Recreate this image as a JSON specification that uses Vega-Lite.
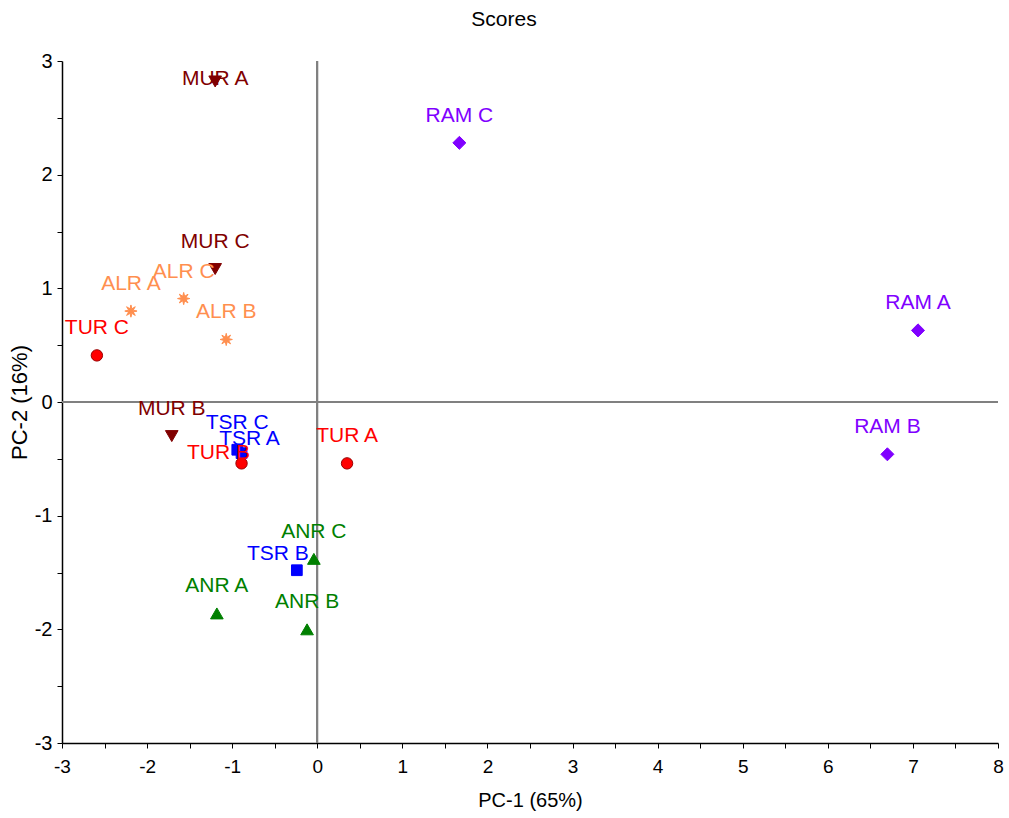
{
  "$schema": "https://vega.github.io/schema/vega-lite/v6.json",
  "autosize": "none",
  "width": 936,
  "height": 682,
  "padding": {"left": 62, "top": 61, "right": 11, "bottom": 75},
  "background": "white",
  "title": {
    "text": "Scores",
    "anchor": "middle",
    "frame": "group",
    "dx": -26,
    "offset": 21,
    "font": "'Liberation Sans', Arial, sans-serif",
    "fontSize": 21,
    "fontWeight": "normal",
    "color": "black"
  },
  "config": {
    "view": {"stroke": null},
    "axis": {
      "grid": false,
      "domainColor": "black",
      "domainWidth": 1.5,
      "tickColor": "black",
      "tickWidth": 1,
      "labelColor": "black",
      "titleColor": "black",
      "titleFontWeight": "normal"
    }
  },
  "data": {
    "values": [
      {"name": "MUR A", "group": "MUR", "pc1": -1.20, "pc2": 2.82},
      {"name": "MUR B", "group": "MUR", "pc1": -1.71, "pc2": -0.30},
      {"name": "MUR C", "group": "MUR", "pc1": -1.20, "pc2": 1.17},
      {"name": "ALR A", "group": "ALR", "pc1": -2.19, "pc2": 0.80},
      {"name": "ALR B", "group": "ALR", "pc1": -1.07, "pc2": 0.55},
      {"name": "ALR C", "group": "ALR", "pc1": -1.57, "pc2": 0.91},
      {"name": "TUR A", "group": "TUR", "pc1": 0.35, "pc2": -0.54},
      {"name": "TUR B", "group": "TUR", "pc1": -0.89, "pc2": -0.54},
      {"name": "TUR C", "group": "TUR", "pc1": -2.59, "pc2": 0.41},
      {"name": "TSR A", "group": "TSR", "pc1": -0.89, "pc2": -0.45},
      {"name": "TSR B", "group": "TSR", "pc1": -0.24, "pc2": -1.48},
      {"name": "TSR C", "group": "TSR", "pc1": -0.94, "pc2": -0.42},
      {"name": "ANR A", "group": "ANR", "pc1": -1.18, "pc2": -1.86},
      {"name": "ANR B", "group": "ANR", "pc1": -0.12, "pc2": -2.00},
      {"name": "ANR C", "group": "ANR", "pc1": -0.04, "pc2": -1.38},
      {"name": "RAM A", "group": "RAM", "pc1": 7.06, "pc2": 0.63},
      {"name": "RAM B", "group": "RAM", "pc1": 6.70, "pc2": -0.46},
      {"name": "RAM C", "group": "RAM", "pc1": 1.67, "pc2": 2.28}
    ]
  },
  "encoding": {
    "x": {
      "field": "pc1", "type": "quantitative",
      "scale": {"domain": [-3, 8], "nice": false, "zero": false},
      "axis": {
        "title": "PC-1 (65%)",
        "values": [-3,-2.5,-2,-1.5,-1,-0.5,0,0.5,1,1.5,2,2.5,3,3.5,4,4.5,5,5.5,6,6.5,7,7.5,8],
        "labelExpr": "datum.value % 1 === 0 ? '' + datum.value : ''",
        "tickSize": 5,
        "labelPadding": 9,
        "labelFont": "'Liberation Sans', Arial, sans-serif",
        "labelFontSize": 19,
        "labelFlush": false,
        "labelOverlap": false,
        "titleFont": "'Liberation Sans', Arial, sans-serif",
        "titleFontSize": 20,
        "titlePadding": 14
      }
    },
    "y": {
      "field": "pc2", "type": "quantitative",
      "scale": {"domain": [-3, 3], "nice": false, "zero": false},
      "axis": {
        "title": "PC-2 (16%)",
        "values": [-3,-2.5,-2,-1.5,-1,-0.5,0,0.5,1,1.5,2,2.5,3],
        "labelExpr": "datum.value % 1 === 0 ? '' + datum.value : ''",
        "tickSize": 5,
        "labelPadding": 5,
        "labelFont": "'Liberation Sans', Arial, sans-serif",
        "labelFontSize": 20,
        "labelFlush": false,
        "labelOverlap": false,
        "titleFont": "'Liberation Sans', Arial, sans-serif",
        "titleFontSize": 22,
        "titlePadding": 3
      }
    }
  },
  "layer": [
    {
      "mark": {"type": "rule", "color": "#808080", "strokeWidth": 1.5},
      "encoding": {"x": {"datum": 0}, "y": null}
    },
    {
      "mark": {"type": "rule", "color": "#808080", "strokeWidth": 1.5},
      "encoding": {"y": {"datum": 0}, "x": null}
    },
    {
      "mark": {"type": "point", "filled": true, "opacity": 1, "strokeWidth": 1},
      "encoding": {
        "color": {
          "field": "group", "type": "nominal", "legend": null,
          "scale": {
            "domain": ["MUR", "ALR", "TUR", "TSR", "ANR", "RAM"],
            "range": ["#800000", "#ff8f4f", "#ff0000", "#0000ff", "#008000", "#8000ff"]
          }
        },
        "stroke": {
          "field": "group", "type": "nominal", "legend": null,
          "scale": {
            "domain": ["MUR", "ALR", "TUR", "TSR", "ANR", "RAM"],
            "range": ["#800000", "#ff8f4f", "#990000", "#0000ff", "#008000", "#8000ff"]
          }
        },
        "shape": {
          "field": "group", "type": "nominal", "legend": null,
          "scale": {
            "domain": ["MUR", "ALR", "TUR", "TSR", "ANR", "RAM"],
            "range": ["triangle-down", "M1,0L0.37,0.153L0.707,0.707L0.153,0.37L0,1L-0.153,0.37L-0.707,0.707L-0.37,0.153L-1,0L-0.37,-0.153L-0.707,-0.707L-0.153,-0.37L0,-1L0.153,-0.37L0.707,-0.707L0.37,-0.153Z", "circle", "square", "triangle-up", "diamond"]
          }
        },
        "size": {
          "field": "group", "type": "nominal", "legend": null,
          "scale": {
            "type": "ordinal",
            "domain": ["MUR", "ALR", "TUR", "TSR", "ANR", "RAM"],
            "range": [160, 150, 130, 115, 160, 170]
          }
        }
      }
    },
    {
      "transform": [{"filter": "indexof(['MUR A','TSR A','TUR B','TSR B'], datum.name) < 0"}],
      "mark": {"type": "text", "dy": -27, "baseline": "middle", "align": "center", "font": "'Liberation Sans', Arial, sans-serif", "fontSize": 21},
      "encoding": {
        "text": {"field": "name"},
        "color": {"field": "group", "type": "nominal", "legend": null}
      }
    },
    {
      "transform": [{"filter": "datum.name === 'MUR A'"}],
      "mark": {"type": "text", "dy": -2, "baseline": "middle", "align": "center", "font": "'Liberation Sans', Arial, sans-serif", "fontSize": 21},
      "encoding": {
        "text": {"field": "name"},
        "color": {"field": "group", "type": "nominal", "legend": null}
      }
    },
    {
      "transform": [{"filter": "datum.name === 'TSR A'"}],
      "mark": {"type": "text", "dx": 8, "dy": -14, "baseline": "middle", "align": "center", "font": "'Liberation Sans', Arial, sans-serif", "fontSize": 21},
      "encoding": {
        "text": {"field": "name"},
        "color": {"field": "group", "type": "nominal", "legend": null}
      }
    },
    {
      "transform": [{"filter": "datum.name === 'TUR B'"}],
      "mark": {"type": "text", "dx": -23, "dy": -10, "baseline": "middle", "align": "center", "font": "'Liberation Sans', Arial, sans-serif", "fontSize": 21},
      "encoding": {
        "text": {"field": "name"},
        "color": {"field": "group", "type": "nominal", "legend": null}
      }
    },
    {
      "transform": [{"filter": "datum.name === 'TSR B'"}],
      "mark": {"type": "text", "dx": -19, "dy": -16, "baseline": "middle", "align": "center", "font": "'Liberation Sans', Arial, sans-serif", "fontSize": 21},
      "encoding": {
        "text": {"field": "name"},
        "color": {"field": "group", "type": "nominal", "legend": null}
      }
    }
  ]
}
